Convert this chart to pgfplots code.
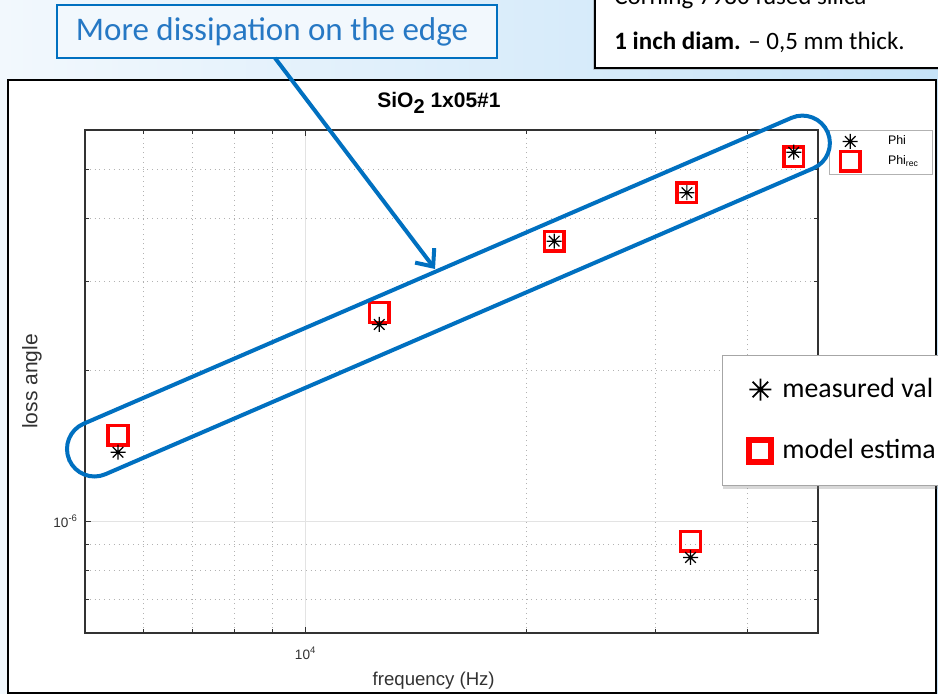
\documentclass[border=0pt]{standalone}
\usepackage{pgfplots}
\pgfplotsset{compat=1.18}
\usepackage{fontspec}
\setmainfont{Liberation Sans}
\newfontfamily\helv{Liberation Sans}
\newfontfamily\carl{Carlito}
\usetikzlibrary{shadows,arrows.meta}
\definecolor{obl}{RGB}{0,112,192}
\definecolor{txtbl}{RGB}{38,120,196}
\definecolor{bgL}{RGB}{242,248,253}
\definecolor{bgR}{RGB}{198,227,248}
\definecolor{axc}{RGB}{50,50,50}
\pgfdeclareplotmark{ast8}{%
 \pgfpathmoveto{\pgfqpoint{-\pgfplotmarksize}{0pt}}\pgfpathlineto{\pgfqpoint{\pgfplotmarksize}{0pt}}%
 \pgfpathmoveto{\pgfqpoint{0pt}{-\pgfplotmarksize}}\pgfpathlineto{\pgfqpoint{0pt}{\pgfplotmarksize}}%
 \pgfpathmoveto{\pgfqpoint{-.7071\pgfplotmarksize}{-.7071\pgfplotmarksize}}\pgfpathlineto{\pgfqpoint{.7071\pgfplotmarksize}{.7071\pgfplotmarksize}}%
 \pgfpathmoveto{\pgfqpoint{-.7071\pgfplotmarksize}{.7071\pgfplotmarksize}}\pgfpathlineto{\pgfqpoint{.7071\pgfplotmarksize}{-.7071\pgfplotmarksize}}%
 \pgfusepathqstroke}
\begin{document}
\begin{tikzpicture}
\useasboundingbox (0,0) rectangle (469pt,347pt);
\clip (0,0) rectangle (469pt,347pt);
% background
\shade[left color=bgL, right color=bgR] (0,0) rectangle (469pt,347pt);
% white panel
\draw[line width=1pt, fill=white] (4pt,0.5pt) rectangle (468pt,307pt);
% top-right info box
\draw[line width=0.8pt, fill=white, drop shadow={shadow xshift=-1pt, shadow yshift=-1pt, opacity=0.35}] (297.5pt,313pt) rectangle (485pt,360pt);
\node[anchor=base west, inner sep=0pt, font=\carl\fontsize{12.5}{14}\selectfont] at (307pt,344.5pt) {Corning 7980 fused silica};
\node[anchor=base west, inner sep=0pt, font=\carl\fontsize{12.5}{14}\selectfont] at (307pt,322pt) {\textbf{1 inch diam.} \textendash{} 0,5 mm thick.};
% main axis
\begin{axis}[
  at={(42.5pt,30.5pt)}, anchor=south west, scale only axis,
  width=366.5pt, height=251.5pt,
  xmode=log, ymode=log,
  xmin=5000, xmax=50000, ymin=6e-7, ymax=6e-6,
  xtick={10000}, xticklabels={10\textsuperscript{4}},
  ytick={1e-6}, yticklabels={10\textsuperscript{-6}},
  minor xtick={6000,7000,8000,9000,20000,30000,40000},
  minor ytick={7e-7,8e-7,9e-7,2e-6,3e-6,4e-6,5e-6},
  grid=both,
  major grid style={gray!22, line width=0.8pt},
  minor grid style={gray!60, dotted, line width=0.5pt},
  tick align=inside, major tick length=3pt, minor tick length=2pt,
  tick style={axc, line width=0.5pt},
  axis line style={axc, line width=0.7pt},
  /pgf/number format/assume math mode=true,
  ticklabel style={font=\helv\fontsize{6.8}{7.5}\selectfont, text=axc},
  xticklabel style={yshift=-3.5pt},
  xlabel={frequency (Hz)}, ylabel={loss angle},
  xlabel style={font=\helv\fontsize{9.3}{11}\selectfont, text=axc, at={(0.4757,0)}, anchor=base, yshift=-26pt},
  ylabel style={font=\helv\fontsize{10.5}{12}\selectfont, text=axc, at={(-0.065,0.5)}, anchor=base},
  reverse legend,
  legend style={at={(1.015,1)}, anchor=north west, draw=gray!60, fill=white,
    font=\helv\fontsize{6.2}{7}\selectfont, inner xsep=5.5pt, inner ysep=1.5pt,
    row sep=1pt, column sep=13pt, nodes={inner sep=1pt}},
  legend cell align=left,
  clip=false,
]
\addplot[only marks, mark=square, mark size=4.9pt, red, line width=1.75pt]
  coordinates {(5546,1.484e-6) (12600,2.603e-6) (21830,3.608e-6) (33120,4.503e-6) (46330,5.31e-6) (33500,9.13e-7)};
\addlegendentry{Phi\textsubscript{rec}}
\addplot[only marks, mark=ast8, mark size=3.75pt, black, line width=0.6pt]
  coordinates {(5546,1.373e-6) (12600,2.464e-6) (21830,3.608e-6) (33120,4.503e-6) (46330,5.42e-6) (33500,8.48e-7)};
\addlegendentry{Phi}
\end{axis}
% title
\node[font=\helv\bfseries\fontsize{10.5}{12}\selectfont, text=black] at (219.5pt,295.5pt) {SiO\raisebox{-0.6ex}{\fontsize{10}{11}\selectfont 2} 1x05\#1};
% stadium
\draw[obl, line width=2pt, rounded corners=13.75pt, rotate around={23.37:(47.25pt,122.5pt)}]
  (33.5pt,108.75pt) rectangle ++(413.1pt,27.5pt);
% callout
\draw[obl, line width=0.8pt, fill=bgL] (28.5pt,318pt) rectangle (248.5pt,344.5pt);
\node[font=\carl\fontsize{16.5}{18}\selectfont, text=txtbl] at (136pt,331pt) {More dissipation on the edge};
\draw[obl, line width=2pt, -{Straight Barb[length=7pt, width=12pt]}] (137.5pt,318pt) -- (217.5pt,212.5pt);
% overlay legend
\begin{axis}[
  at={(361pt,169.5pt)}, anchor=north west, scale only axis,
  width=10pt, height=10pt, hide axis,
  xmin=0, xmax=1, ymin=0, ymax=1,
  legend style={at={(0,1)}, anchor=north west, draw=gray!70, fill=white,
    drop shadow={shadow xshift=0.5pt, shadow yshift=-2pt, opacity=0.3},
    font=\carl\fontsize{13.9}{16}\selectfont, inner xsep=13.5pt, inner ysep=9.5pt,
    row sep=15.5pt, column sep=3.5pt, nodes={inner sep=2pt}},
  legend cell align=left,
]
\addlegendimage{only marks, mark=ast8, mark size=5.5pt, black, line width=0.9pt}
\addlegendentry{measured val}
\addlegendimage{only marks, mark=square, mark size=5.5pt, red, line width=3pt}
\addlegendentry{model estima}
\end{axis}
\end{tikzpicture}
\end{document}
